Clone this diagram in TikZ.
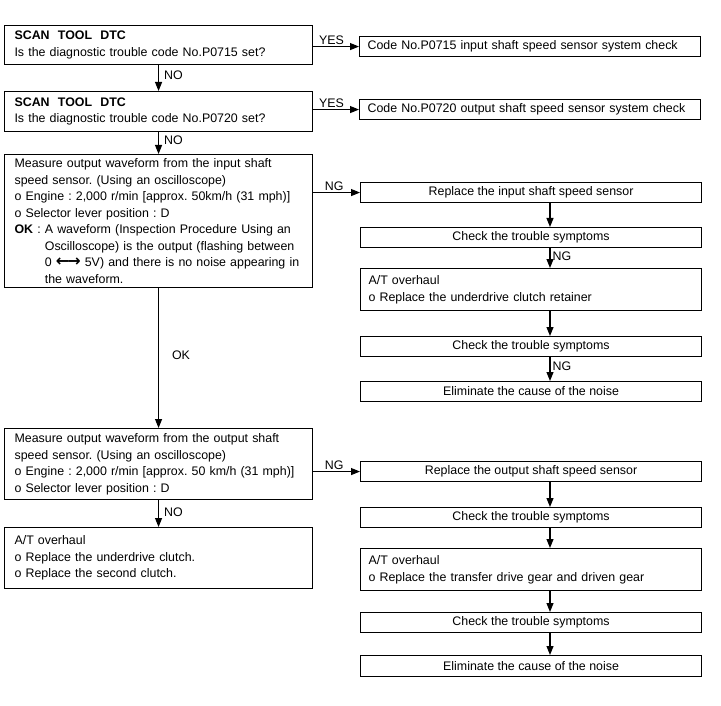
\documentclass[tikz,border=0pt]{standalone}
\usepackage{fontspec}
\setmainfont{Liberation Sans}
\newfontfamily\symfont{DejaVu Sans}
\usetikzlibrary{arrows.meta,calc}
\begin{document}
\frenchspacing
\begin{tikzpicture}[x=1pt,y=-1pt,
  every node/.style={font=\fontsize{12.4}{16.5}\selectfont},
  lbox/.style={draw,line width=1.1pt,anchor=north west,inner xsep=10pt,inner ysep=0pt,text width=288pt,align=left},
  rbox/.style={draw,line width=1.1pt,anchor=north west,minimum width=341pt,minimum height=20pt,inner sep=0pt,align=center},
  rtbox/.style={draw,line width=1.1pt,anchor=north west,inner xsep=8pt,inner ysep=0pt,text width=325pt,align=left},
  arr/.style={line width=1.1pt,-{Triangle[length=9pt,width=7pt]}},
  lab/.style={inner sep=1pt}]
\useasboundingbox (0,0) rectangle (721,706);
\coordinate (ax) at (550,0);
% left column
\node[lbox,minimum height=39pt] (q1) at (4,25) {\textbf{SCAN\ \ TOOL\ \ DTC}\\Is the diagnostic trouble code No.P0715 set?};
\node[lbox,minimum height=40pt] (q2) at (4,91) {\textbf{SCAN\ \ TOOL\ \ DTC}\\Is the diagnostic trouble code No.P0720 set?};
\node[lbox,minimum height=133pt] (q3) at (4,154) {Measure output waveform from the input shaft\\
speed sensor. (Using an oscilloscope)\\
o Engine : 2,000 r/min [approx. 50km/h (31 mph)]\\
o Selector lever position : D\\
\textbf{OK} : A waveform (Inspection Procedure Using an\\
\phantom{\textbf{OK} : }Oscilloscope) is the output (flashing between\\
\phantom{\textbf{OK} : }0 {\symfont\bfseries\fontsize{16}{16.5}\selectfont ←\kern-2pt→}\ 5V) and there is no noise appearing in\\
\phantom{\textbf{OK} : }the waveform.};
\node[lbox,minimum height=71pt] (q4) at (4,428) {Measure output waveform from the output shaft\\
speed sensor. (Using an oscilloscope)\\
o Engine : 2,000 r/min [approx. 50 km/h (31 mph)]\\
o Selector lever position : D};
\node[lbox,minimum height=61pt] (q5) at (4,527) {A/T overhaul\\
o Replace the underdrive clutch.\\
o Replace the second clutch.};
% right top boxes
\node[rtbox,minimum height=20pt] (r1) at (359,36) {Code No.P0715 input shaft speed sensor system check};
\node[rtbox,minimum height=20pt] (r2) at (359,99) {Code No.P0720 output shaft speed sensor system check};
% column A
\node[rbox] (a1) at (360,182) {Replace the input shaft speed sensor};
\node[rbox] (a2) at (360,227) {Check the trouble symptoms};
\node[rtbox,minimum height=42pt] (a3) at (360,268) {A/T overhaul\\o Replace the underdrive clutch retainer};
\node[rbox] (a4) at (360,336) {Check the trouble symptoms};
\node[rbox] (a5) at (360,381) {Eliminate the cause of the noise};
% column B
\node[rbox] (b1) at (360,461) {Replace the output shaft speed sensor};
\node[rbox] (b2) at (360,507) {Check the trouble symptoms};
\node[rtbox,minimum height=42pt] (b3) at (360,548) {A/T overhaul\\o Replace the transfer drive gear and driven gear};
\node[rbox] (b4) at (360,612) {Check the trouble symptoms};
\node[rbox,minimum height=21pt] (b5) at (360,655) {Eliminate the cause of the noise};
% connectors left
\draw[arr] (q1.south) -- node[lab,right,pos=0.4,xshift=4pt]{NO} (q2.north);
\draw[arr] (q2.south) -- node[lab,right,pos=0.35,xshift=4pt]{NO} (q3.north);
\draw[arr] (q3.south) -- node[lab,right,pos=0.48,xshift=12pt]{OK} (q4.north);
\draw[arr] (q4.south) -- node[lab,right,pos=0.45,xshift=4pt]{NO} (q5.north);
% connectors right
\draw[arr] (q1.east |- r1.west) -- node[lab,above,pos=0.4]{YES} (r1.west);
\draw[arr] (q2.east |- r2.west) -- node[lab,above,pos=0.4]{YES} (r2.west);
\draw[arr] (q3.east |- a1.west) -- node[lab,above,pos=0.45]{NG} (a1.west);
\draw[arr] (q4.east |- b1.west) -- node[lab,above,pos=0.45]{NG} (b1.west);
% column A connectors
\draw[arr] (a1.south -| ax) -- (a2.north -| ax);
\draw[arr] (a2.south -| ax) -- node[lab,right,pos=0.4,xshift=1pt]{NG} (a3.north -| ax);
\draw[arr] (a3.south -| ax) -- (a4.north -| ax);
\draw[arr] (a4.south -| ax) -- node[lab,right,pos=0.4,xshift=1pt]{NG} (a5.north -| ax);
% column B connectors
\draw[arr] (b1.south -| ax) -- (b2.north -| ax);
\draw[arr] (b2.south -| ax) -- (b3.north -| ax);
\draw[arr] (b3.south -| ax) -- (b4.north -| ax);
\draw[arr] (b4.south -| ax) -- (b5.north -| ax);
\end{tikzpicture}
\end{document}
